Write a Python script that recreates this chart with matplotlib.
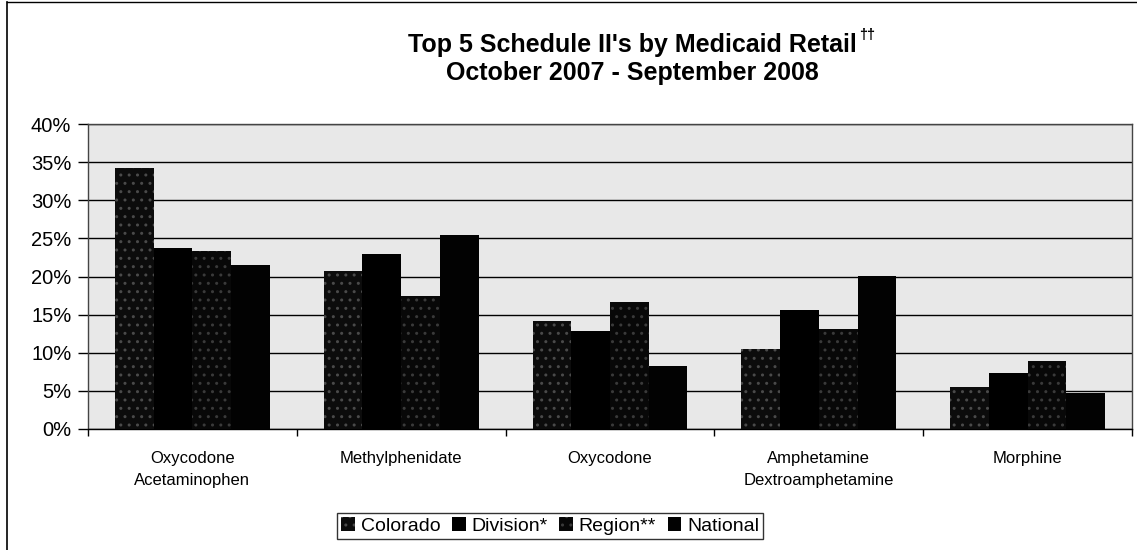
import numpy as np
import matplotlib
matplotlib.use("Agg")
import matplotlib.pyplot as plt
from matplotlib.patches import Patch
from matplotlib.lines import Line2D
from matplotlib.ticker import PercentFormatter

plt.rcParams['font.family'] = ['Liberation Sans', 'DejaVu Sans']

categories = ["Oxycodone\nAcetaminophen", "Methylphenidate", "Oxycodone",
              "Amphetamine\nDextroamphetamine", "Morphine"]
series_names = ["Colorado", "Division*", "Region**", "National"]
colorado = [34.2, 20.7, 14.2, 10.5, 5.5]
division = [23.8, 22.9, 12.9, 15.6, 7.4]
region = [23.4, 17.5, 16.7, 13.1, 8.9]
national = [21.5, 25.4, 8.3, 20.1, 4.7]
y_ticks = [0, 5, 10, 15, 20, 25, 30, 35, 40]

series = [colorado, division, region, national]
faces = ["#0c0c0c", "#000000", "#080808", "#020202"]
hatches = ["..", None, "..", None]
hatch_cols = ["#4a4a4a", "#000000", "#3a3a3a", "#020202"]

fig = plt.figure(figsize=(11.37, 5.5), dpi=100)
ax = fig.add_axes([88 / 1137, 1 - 429 / 550, (1132 - 88) / 1137, (429 - 124) / 550])
ax.set_facecolor("#e8e8e8")

n = len(series)
bw = 0.742 / n
x = np.arange(len(categories))
for i, (vals, fc, h, hc) in enumerate(zip(series, faces, hatches, hatch_cols)):
    offs = (i - (n - 1) / 2) * bw
    ax.bar(x + offs, vals, width=bw, color=fc, hatch=h, edgecolor=hc,
           linewidth=0, zorder=3, label=series_names[i])

ax.set_xlim(-0.5, len(categories) - 0.5)
ax.set_ylim(0, 40)
ax.set_yticks(y_ticks)
ax.yaxis.set_major_formatter(PercentFormatter(decimals=0))
ax.yaxis.grid(True, color="black", linewidth=1.0, zorder=1)
ax.set_axisbelow(True)
ax.tick_params(axis="y", direction="out", length=7, width=1, labelsize=14.5, pad=5)

ax.set_xticks(x)
ax.set_xticklabels(categories, fontsize=12, linespacing=1.6)
ax.tick_params(axis="x", which="major", length=0, pad=16)
ax.set_xticks(np.arange(len(categories) + 1) - 0.5, minor=True)
ax.tick_params(axis="x", which="minor", direction="out", length=5, width=1)

for side in ["left", "right", "bottom", "top"]:
    ax.spines[side].set_color("#444444")
    ax.spines[side].set_linewidth(1.0)
ax.spines["bottom"].set_color("black")

# chart frame along the left and top edges
fig.add_artist(Line2D([7 / 1137, 7 / 1137], [0, 1 - 2 / 550], color="black", linewidth=1.2))
fig.add_artist(Line2D([7 / 1137, 1], [1 - 2 / 550, 1 - 2 / 550], color="black", linewidth=1.0))

cx = 0.556
t1 = fig.text(cx, 1 - 45 / 550, "Top 5 Schedule II's by Medicaid Retail",
              ha="center", va="center", fontsize=18, fontweight="bold")
fig.text(cx, 1 - 73 / 550, "October 2007 - September 2008",
         ha="center", va="center", fontsize=18, fontweight="bold")
fig.canvas.draw()
bb = t1.get_window_extent(fig.canvas.get_renderer())
fig.text(bb.x1 / 1137 + 0.002, bb.y1 / 550 - 0.004, "\u2020\u2020",
         ha="left", va="center", fontsize=10.5, fontweight="bold")

handles = [Patch(facecolor=fc, hatch=h, edgecolor=hc, linewidth=0)
           for fc, h, hc in zip(faces, hatches, hatch_cols)]
leg = fig.legend(handles, series_names, loc="center", bbox_to_anchor=(0.484, 1 - 526 / 550),
                 ncol=4, frameon=True, fancybox=False, edgecolor="black",
                 fontsize=14, handlelength=0.7, handleheight=0.7, handletextpad=0.3,
                 columnspacing=0.6, borderpad=0.2)
leg.get_frame().set_linewidth(1.0)

fig.savefig("out.png", dpi=100)
